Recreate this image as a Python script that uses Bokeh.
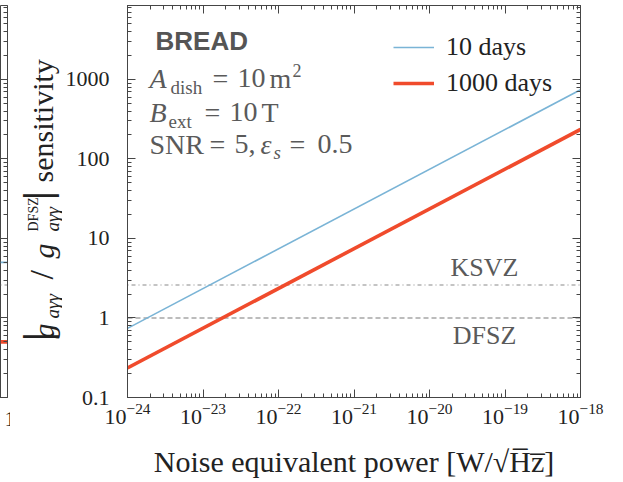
from math import pi

from bokeh.embed import file_html
from bokeh.layouts import row
from bokeh.models import (CustomJSTickFormatter, FixedTicker, Label,
                          Legend, LegendItem, LinearAxis, LogAxis)
from bokeh.plotting import figure
from bokeh.resources import INLINE

# ---- data -------------------------------------------------------------
# noise equivalent power [W/sqrt(Hz)] at the ends of the scan
nep = [1e-24, 1e-18]
# |g_agg / g_agg^DFSZ| reach for two integration times
sens_10_days = [0.74, 740.0]
sens_1000_days = [0.235, 235.0]
# benchmark QCD axion couplings (in units of DFSZ)
ksvz_level = [2.6, 2.6]
dfsz_level = [1.0, 1.0]

# right-hand edge of the neighbouring panel
side_x = [0.0, 1.0]
side_10_days = [5.0, 5.0]
side_1000_days = [0.5, 0.5]
side_tick = [0.2]

x_decades = [1e-24, 1e-23, 1e-22, 1e-21, 1e-20, 1e-19, 1e-18]
y_decades = [0.1, 1.0, 10.0, 100.0, 1000.0]
y_top = 8500.0

x_minor = [m * d for d in x_decades[:-1] for m in range(2, 10)]
y_minor = [m * d for d in y_decades for m in range(2, 10) if m * d < y_top]

BLUE = "#7ab4d6"
RED = "#f04b2c"
GREY = "#5a5a5a"
INK = "#222222"
AXC = "#454545"
SERIF = "Liberation Serif"
H = 482

xt = FixedTicker(ticks=x_decades, minor_ticks=x_minor)
yt = FixedTicker(ticks=y_decades, minor_ticks=y_minor)


def style_axis(ax):
    ax.axis_line_color = AXC
    ax.major_tick_line_color = AXC
    ax.minor_tick_line_color = AXC
    ax.major_tick_in = 8
    ax.major_tick_out = 0
    ax.minor_tick_in = 4
    ax.minor_tick_out = 0


def bare_axis(tick):
    ax = LogAxis(ticker=tick, formatter=CustomJSTickFormatter(code="return ''"),
                 major_label_text_font_size="1px", major_label_standoff=0)
    style_axis(ax)
    return ax


def make_label(fig_left, fig_bottom, x, y, text, size, font=SERIF,
               style="normal", color=GREY, angle=0.0, align="left"):
    # (x, y) is the wanted baseline start in page pixels; Bokeh's
    # alphabetic anchor sits ~0.37 em below that, so lift it back
    lift = 0.37 * size
    if angle:
        x -= lift
    else:
        y -= lift
    return Label(x=x - fig_left, y=fig_bottom - y, x_units="screen",
                 y_units="screen", text=text, angle=angle,
                 text_font=font, text_font_size=f"{size}px",
                 text_font_style=style, text_color=color,
                 text_align=align, text_baseline="alphabetic")


# ---- main panel ---------------------------------------------------------
p = figure(width=561, height=H, x_axis_type="log", y_axis_type="log",
           x_range=(nep[0], nep[-1]), y_range=(y_decades[0], y_top),
           output_backend="svg", toolbar_location=None,
           min_border_left=64, min_border_right=43,
           min_border_top=5, min_border_bottom=85)
p.grid.visible = False
p.outline_line_color = AXC

xa = p.xaxis[0]
xa.ticker = xt
style_axis(xa)
xa.major_label_text_font = SERIF
xa.major_label_text_font_size = "22px"
xa.major_label_text_color = INK
xa.major_label_standoff = 6
xa.axis_label = "Noise equivalent power [W/\u221aH\u0305z\u0305]"
xa.axis_label_text_font = SERIF
xa.axis_label_text_font_size = "30px"
xa.axis_label_text_font_style = "normal"
xa.axis_label_text_color = INK
xa.axis_label_standoff = 18

ya = p.yaxis[0]
ya.ticker = yt
style_axis(ya)
ya.formatter = CustomJSTickFormatter(code="return String(Number(tick.toPrecision(6)))")
ya.major_label_text_font = SERIF
ya.major_label_text_font_size = "22px"
ya.major_label_text_color = INK
ya.major_label_standoff = 18

p.add_layout(bare_axis(xt), "above")
p.add_layout(bare_axis(yt), "right")

p.line(nep, ksvz_level, line_color="#8a8a8a", line_width=1.2, line_dash="1 3 4 3")
p.line(nep, dfsz_level, line_color="#7a7a7a", line_width=1.2, line_dash="5 3")
r10 = p.line(nep, sens_10_days, line_color=BLUE, line_width=1.6)
r1000 = p.line(nep, sens_1000_days, line_color=RED, line_width=3.6)

legend = Legend(items=[LegendItem(label="10 days", renderers=[r10]),
                       LegendItem(label="1000 days", renderers=[r1000])],
                location=(266, 299), padding=0, margin=0, spacing=6,
                glyph_width=41, glyph_height=30, label_standoff=12,
                label_text_font=SERIF, label_text_font_size="26px",
                label_text_color=INK, border_line_color=None,
                background_fill_alpha=0)
p.add_layout(legend)


def note(x, y, text, size, **kw):
    # main frame: left edge at page x=126, bottom at page y=397
    p.add_layout(make_label(126, 397, x, y, text, size, **kw))


# experiment box
note(154, 50, "BREAD", 26, font="Liberation Sans", style="bold", color="#555555")
note(148, 88, "A", 28, style="italic")
note(169, 94, "dish", 19)
note(211, 88, "=", 28)
note(236, 88, "10", 28)
note(268, 88, "m", 28)
note(291, 77, "2", 18)
note(148, 122, "B", 28, style="italic")
note(167, 128, "ext", 19)
note(203, 122, "=", 28)
note(228, 122, "10", 28)
note(260, 122, "T", 28)
note(148, 154, "SNR", 28)
note(208, 154, "=", 28)
note(233, 154, "5,", 28)
note(259, 154, "\u03b5", 28, style="italic")
note(272, 159, "s", 19, style="italic")
note(288, 154, "=", 28)
note(316, 154, "0.5", 28)

# benchmark names
note(483, 277, "KSVZ", 26, align="center")
note(483, 345, "DFSZ", 26, align="center")

# ---- y-axis title strip ------------------------------------------------
# the row lines up the frames, so this strip's frame spans page y 5..397
t = figure(width=52, height=H, x_range=(0, 1), y_range=(0, 1),
           output_backend="svg", toolbar_location=None, min_border=0,
           x_axis_location=None, y_axis_location=None)
t.grid.visible = False
t.outline_line_color = None


def vnote(x, y, text, size, **kw):
    # strip: left edge at page x=10, frame bottom at page y=397
    t.add_layout(make_label(10, 397, x, y, text, size, color=INK,
                            angle=pi / 2, **kw))


vnote(49, 346, "|", 36, font="Noto Sans")
vnote(54, 338, "g", 30, style="italic")
vnote(59, 318, "a\u03b3\u03b3", 19, style="italic")
vnote(54, 279, "/", 34)
vnote(54, 258, "g", 30, style="italic")
vnote(59, 231, "a\u03b3\u03b3", 19, style="italic")
vnote(38, 231, "DFSZ", 14)
vnote(49, 205, "|", 36, font="Noto Sans")
vnote(53, 182, "sensitivity", 30)

# ---- sliver of the neighbouring panel -----------------------------------
s = figure(width=10, height=H, x_range=(side_x[0], side_x[-1]),
           y_axis_type="log", y_range=(y_decades[0], y_top),
           output_backend="svg", toolbar_location=None,
           min_border_left=0, min_border_right=3,
           min_border_top=5, min_border_bottom=85,
           x_axis_location=None, y_axis_location=None)
s.grid.visible = False
s.outline_line_color = AXC
s.add_layout(bare_axis(yt), "right")
s.line(side_x, ksvz_level, line_color="#8a8a8a", line_width=1.2, line_dash="1 3 4 3")
s.line(side_x, side_10_days, line_color=BLUE, line_width=1.6)
s.line(side_x, side_1000_days, line_color=RED, line_width=3.6)
side_x_axis = LinearAxis(ticker=FixedTicker(ticks=side_tick, minor_ticks=[]),
                         formatter=CustomJSTickFormatter(code="return '1'"),
                         axis_line_color=None, major_tick_in=0, major_tick_out=0,
                         minor_tick_in=0, minor_tick_out=0,
                         major_label_standoff=14,
                         major_label_text_font=SERIF,
                         major_label_text_font_size="22px",
                         major_label_text_color=INK)
s.add_layout(side_x_axis, "below")

layout = row(s, t, p)
open("out.html", "w").write(file_html(layout, INLINE))
